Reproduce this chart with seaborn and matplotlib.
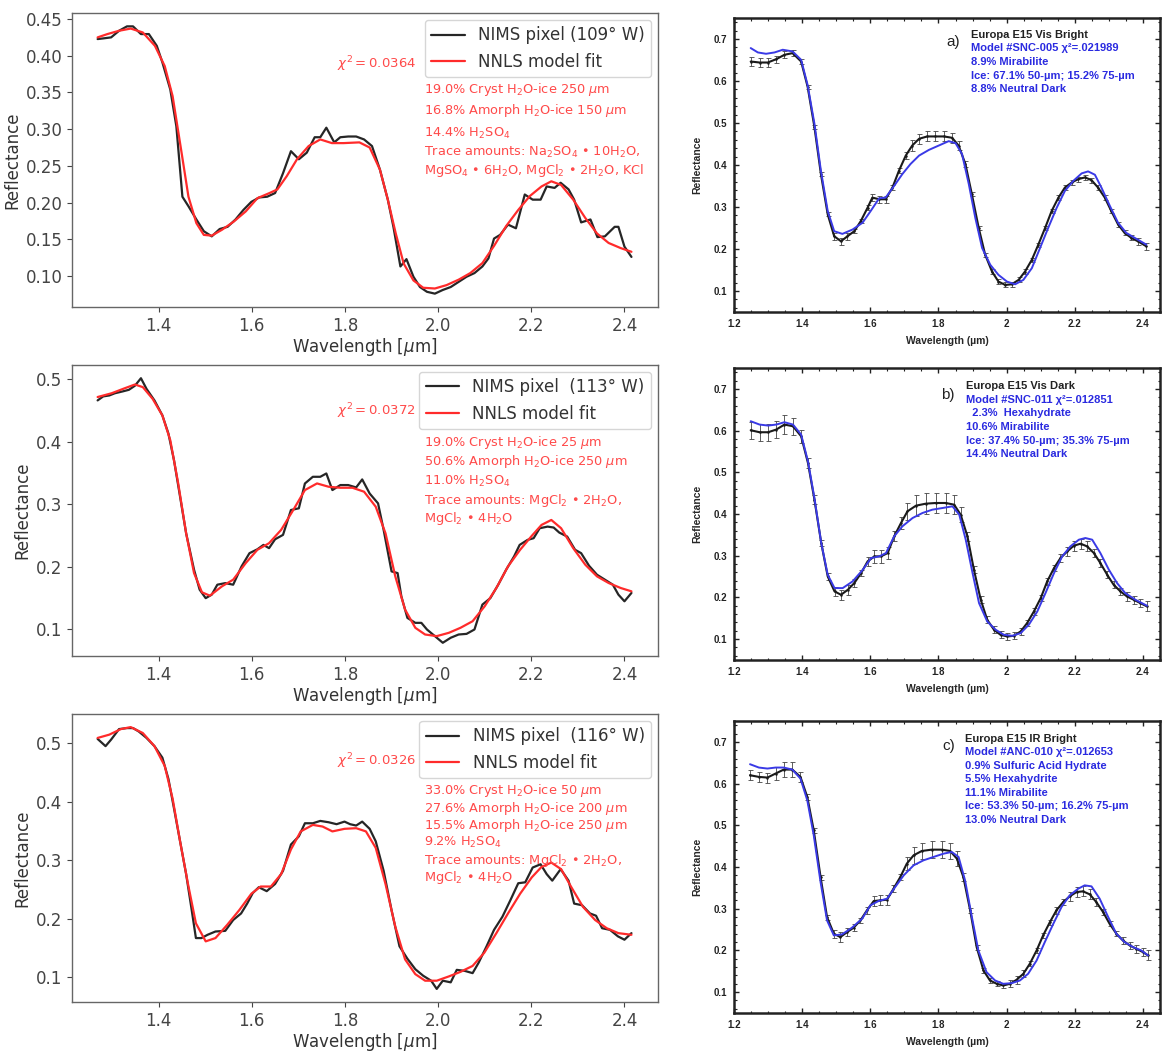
import numpy as np
import pandas as pd
import matplotlib
matplotlib.use("Agg")
import matplotlib.pyplot as plt
import seaborn as sns
from matplotlib.ticker import MultipleLocator, FormatStrFormatter, FixedLocator

sns.set_style("ticks")
plt.rcParams['font.family'] = ['DejaVu Sans']

# ---------------- Left column: NIMS pixels with NNLS fits ----------------
p1_obs_x = [1.269,1.281,1.298,1.315,1.332,1.345,1.362,1.379,1.396,1.408,1.425,1.438,1.451,1.464,1.481,1.497,
            1.514,1.531,1.548,1.565,1.582,1.599,1.616,1.633,1.65,1.667,1.684,1.701,1.718,1.735,1.747,1.76,
            1.777,1.79,1.807,1.824,1.841,1.858,1.875,1.892,1.904,1.919,1.932,1.947,1.961,1.976,1.993,2.01,
            2.027,2.044,2.061,2.078,2.095,2.108,2.12,2.133,2.15,2.167,2.186,2.203,2.22,2.233,2.25,2.263,
            2.28,2.292,2.307,2.327,2.342,2.358,2.379,2.387,2.4,2.415]
p1_obs_y = [0.4227,0.4236,0.425,0.434,0.44,0.44,0.4295,0.4295,0.4135,0.391,0.354,0.304,0.208,0.195,0.177,0.161,
            0.154,0.164,0.167,0.177,0.19,0.201,0.207,0.208,0.213,0.24,0.27,0.259,0.268,0.289,0.289,0.302,
            0.282,0.289,0.29,0.29,0.286,0.277,0.245,0.204,0.167,0.113,0.123,0.099,0.085,0.0785,0.076,0.081,
            0.085,0.092,0.099,0.104,0.113,0.124,0.151,0.156,0.17,0.165,0.211,0.204,0.204,0.222,0.22,0.227,
            0.218,0.204,0.173,0.177,0.153,0.154,0.167,0.167,0.14,0.126]
p1_fit_x = [1.269,1.29,1.315,1.34,1.366,1.392,1.413,1.43,1.447,1.464,1.481,1.497,1.514,1.536,1.561,1.587,
            1.612,1.638,1.655,1.675,1.697,1.722,1.747,1.772,1.797,1.831,1.853,1.875,1.892,1.909,1.926,1.947,
            1.968,1.993,2.018,2.044,2.069,2.095,2.12,2.146,2.172,2.197,2.222,2.243,2.264,2.29,2.316,2.341,
            2.366,2.392,2.415]
p1_fit_y = [0.425,0.4295,0.434,0.437,0.4317,0.4135,0.386,0.345,0.277,0.208,0.172,0.156,0.155,0.163,0.174,0.188,
            0.206,0.213,0.218,0.236,0.259,0.277,0.286,0.281,0.281,0.282,0.275,0.245,0.204,0.158,0.117,0.094,
            0.084,0.083,0.0876,0.095,0.104,0.1176,0.141,0.168,0.19,0.209,0.222,0.229,0.224,0.204,0.179,0.158,
            0.145,0.138,0.133]

p2_obs_x = [1.269,1.281,1.294,1.306,1.323,1.336,1.349,1.362,1.374,1.391,1.408,1.421,1.433,1.446,1.459,1.476,
            1.488,1.501,1.514,1.526,1.543,1.56,1.578,1.595,1.612,1.625,1.637,1.65,1.667,1.684,1.701,1.714,
            1.731,1.747,1.76,1.773,1.79,1.807,1.824,1.837,1.853,1.871,1.883,1.9,1.913,1.921,1.934,1.951,
            1.964,1.976,1.993,2.01,2.027,2.044,2.061,2.078,2.095,2.112,2.129,2.146,2.163,2.175,2.192,2.205,
            2.218,2.235,2.248,2.26,2.277,2.294,2.307,2.324,2.341,2.358,2.375,2.387,2.4,2.415]
p2_obs_y = [0.4656,0.472,0.4735,0.477,0.48,0.4825,0.489,0.501,0.484,0.4656,0.4417,0.4126,0.37,0.312,0.2536,0.1954,
            0.1636,0.15,0.1556,0.1715,0.174,0.1715,0.2007,0.2218,0.228,0.235,0.2298,0.244,0.251,0.2907,0.2934,0.333,
            0.3437,0.3437,0.349,0.3225,0.3305,0.3305,0.3267,0.3395,0.317,0.3013,0.259,0.1927,0.19,0.153,0.1185,0.1106,
            0.1106,0.1,0.0894,0.0788,0.0868,0.092,0.093,0.1,0.1397,0.15,0.1715,0.1954,0.2166,0.235,0.243,0.2457,
            0.2616,0.2642,0.2627,0.2547,0.2483,0.2272,0.2218,0.2017,0.1874,0.1795,0.1715,0.1556,0.145,0.1583]
p2_fit_x = [1.269,1.299,1.324,1.349,1.366,1.387,1.408,1.425,1.442,1.459,1.476,1.493,1.51,1.536,1.56,1.587,
            1.612,1.637,1.663,1.689,1.714,1.74,1.765,1.79,1.816,1.841,1.866,1.887,1.908,1.929,1.951,1.972,
            1.997,2.023,2.048,2.074,2.1,2.125,2.15,2.176,2.201,2.222,2.243,2.264,2.29,2.316,2.341,2.366,
            2.392,2.415]
p2_fit_y = [0.471,0.477,0.4841,0.491,0.4868,0.4682,0.4417,0.402,0.3331,0.2536,0.19,0.1593,0.154,0.1689,0.1795,0.206,
            0.2272,0.2377,0.259,0.2907,0.3225,0.3331,0.3278,0.3262,0.3262,0.3199,0.296,0.2536,0.1848,0.1318,0.1027,0.092,
            0.0894,0.0947,0.1027,0.1132,0.1371,0.1662,0.2007,0.2272,0.2494,0.2669,0.2748,0.2616,0.2298,0.2033,0.1848,0.1742,
            0.1662,0.1609]

p3_obs_x = [1.269,1.286,1.298,1.315,1.332,1.345,1.357,1.374,1.391,1.408,1.421,1.433,1.446,1.459,1.471,1.48,
            1.492,1.505,1.522,1.543,1.56,1.577,1.59,1.602,1.615,1.632,1.65,1.667,1.684,1.701,1.714,1.731,
            1.747,1.765,1.782,1.799,1.811,1.824,1.837,1.853,1.866,1.883,1.9,1.917,1.934,1.951,1.968,1.985,
            1.997,2.01,2.027,2.04,2.057,2.074,2.087,2.104,2.12,2.138,2.155,2.172,2.187,2.203,2.22,2.233,
            2.245,2.263,2.28,2.292,2.309,2.326,2.339,2.352,2.369,2.386,2.4,2.415]
p3_obs_y = [0.5067,0.4944,0.5056,0.5235,0.5252,0.5252,0.5196,0.5084,0.4944,0.4748,0.4385,0.3881,0.3322,0.2762,0.2147,0.1671,
            0.1671,0.1727,0.1783,0.1794,0.1979,0.2091,0.2259,0.2438,0.2538,0.2471,0.2594,0.2818,0.3266,0.3406,0.3629,0.3629,
            0.3669,0.3646,0.3613,0.3657,0.3613,0.359,0.3657,0.3534,0.3322,0.2818,0.2147,0.1531,0.1319,0.114,0.1028,0.0944,
            0.0804,0.0944,0.0916,0.1129,0.1112,0.1073,0.1252,0.1531,0.1811,0.2035,0.2315,0.2606,0.2622,0.2874,0.293,0.2762,
            0.265,0.2846,0.265,0.2259,0.2231,0.2091,0.2052,0.1839,0.1811,0.17,0.1643,0.1755]
p3_fit_x = [1.269,1.294,1.319,1.34,1.366,1.391,1.413,1.43,1.446,1.463,1.48,1.501,1.522,1.547,1.573,1.599,
            1.619,1.641,1.663,1.684,1.705,1.731,1.752,1.773,1.799,1.824,1.845,1.866,1.887,1.908,1.929,1.951,
            1.972,1.997,2.023,2.048,2.074,2.099,2.125,2.15,2.176,2.201,2.222,2.243,2.264,2.286,2.311,2.337,
            2.362,2.387,2.415]
p3_fit_y = [0.5084,0.514,0.5235,0.5269,0.5168,0.4944,0.4608,0.4049,0.3322,0.2594,0.1923,0.1615,0.1671,0.1895,0.2147,0.2427,
            0.255,0.255,0.2762,0.3182,0.349,0.3601,0.3573,0.349,0.3534,0.3545,0.349,0.321,0.2594,0.1867,0.1308,0.1056,
            0.0944,0.0944,0.1017,0.1095,0.1196,0.142,0.1755,0.2091,0.2427,0.2706,0.2885,0.2958,0.2846,0.2538,0.2203,0.1979,
            0.1839,0.1755,0.1727]

left_pixel_labels = ["NIMS pixel (109° W)", "NIMS pixel  (113° W)", "NIMS pixel  (116° W)"]
left_chi = [r"$\chi^2 = 0.0364$", r"$\chi^2 = 0.0372$", r"$\chi^2 = 0.0326$"]
left_lines = [
    [r"19.0% Cryst H$_2$O-ice 250 $\mu$m",
     r"16.8% Amorph H$_2$O-ice 150 $\mu$m",
     r"14.4% H$_2$SO$_4$",
     r"Trace amounts: Na$_2$SO$_4$ • 10H$_2$O," + "\n" + r"MgSO$_4$ • 6H$_2$O, MgCl$_2$ • 2H$_2$O, KCl"],
    [r"19.0% Cryst H$_2$O-ice 25 $\mu$m",
     r"50.6% Amorph H$_2$O-ice 250 $\mu$m",
     r"11.0% H$_2$SO$_4$",
     r"Trace amounts: MgCl$_2$ • 2H$_2$O,",
     r"MgCl$_2$ • 4H$_2$O"],
    [r"33.0% Cryst H$_2$O-ice 50 $\mu$m",
     r"27.6% Amorph H$_2$O-ice 200 $\mu$m",
     r"15.5% Amorph H$_2$O-ice 250 $\mu$m",
     r"9.2% H$_2$SO$_4$",
     r"Trace amounts: MgCl$_2$ • 2H$_2$O,",
     r"MgCl$_2$ • 4H$_2$O"],
]
left_line_y = [[0.741, 0.667, 0.592, 0.493],
               [0.732, 0.667, 0.601, 0.536, 0.474],
               [0.735, 0.673, 0.612, 0.554, 0.49, 0.432]]
left_chi_y = [0.826, 0.842, 0.837]
left_xticks = [1.4, 1.6, 1.8, 2.0, 2.2, 2.4]
left_yticks = [[0.10, 0.15, 0.20, 0.25, 0.30, 0.35, 0.40, 0.45],
               [0.1, 0.2, 0.3, 0.4, 0.5],
               [0.1, 0.2, 0.3, 0.4, 0.5]]
left_yfmt = ['%.2f', '%.1f', '%.1f']

# ---------------- Right column: Europa E15 spectra with models ----------------
a_obs_x = [1.249,1.275,1.299,1.324,1.348,1.372,1.397,1.416,1.436,1.455,
           1.475,1.494,1.514,1.533,1.553,1.572,1.592,1.606,1.626,1.645,
           1.665,1.684,1.704,1.723,1.743,1.767,1.791,1.816,1.84,1.859,
           1.879,1.898,1.918,1.937,1.957,1.976,1.996,2.015,2.035,2.054,
           2.074,2.093,2.113,2.132,2.152,2.171,2.191,2.21,2.23,2.249,
           2.268,2.288,2.307,2.327,2.346,2.366,2.385,2.41]
a_obs_y = [0.6464,0.644,0.644,0.652,0.6624,0.6664,0.6464,0.5864,0.4904,0.3784,
           0.2824,0.2304,0.2184,0.2304,0.2424,0.2664,0.2984,0.3224,0.3184,0.3184,
           0.3464,0.3864,0.4224,0.4464,0.4624,0.468,0.468,0.468,0.4648,0.4464,
           0.4024,0.3304,0.2504,0.1864,0.1464,0.1224,0.1144,0.116,0.1264,0.1464,
           0.1744,0.2104,0.2504,0.2904,0.3224,0.3464,0.3584,0.3664,0.3704,0.364,
           0.3464,0.3224,0.2904,0.2584,0.2384,0.2264,0.2184,0.2064]
a_obs_err = [0.010,0.010,0.010,0.008,0.008,0.008,0.006,0.005,0.005,0.005,
             0.005,0.008,0.008,0.008,0.005,0.005,0.006,0.008,0.008,0.008,
             0.006,0.006,0.008,0.012,0.012,0.012,0.012,0.012,0.012,0.010,
             0.006,0.005,0.005,0.005,0.005,0.005,0.006,0.006,0.006,0.005,
             0.005,0.005,0.005,0.005,0.005,0.005,0.006,0.006,0.006,0.006,
             0.006,0.005,0.005,0.005,0.006,0.006,0.008,0.008]
a_mod_x = [1.249,1.27,1.294,1.319,1.343,1.372,1.397,1.416,1.436,1.455,1.475,1.494,1.518,1.548,1.577,1.601,
           1.626,1.645,1.67,1.694,1.718,1.743,1.772,1.801,1.83,1.85,1.869,1.889,1.908,1.928,1.952,1.976,
           2.001,2.025,2.049,2.074,2.098,2.122,2.147,2.171,2.196,2.22,2.239,2.259,2.278,2.303,2.327,2.351,
           2.376,2.41]
a_mod_y = [0.6784,0.668,0.6648,0.668,0.6744,0.6704,0.6504,0.5904,0.4984,0.3864,0.2904,0.2424,0.236,0.2464,0.2624,0.2904,
           0.3208,0.3224,0.3504,0.3784,0.4024,0.4224,0.436,0.4464,0.4568,0.452,0.4264,0.3544,0.2744,0.2024,0.1624,0.1384,
           0.1224,0.116,0.1264,0.1544,0.2024,0.2504,0.2984,0.3384,0.3624,0.38,0.3848,0.3768,0.3464,0.3024,0.2624,0.2384,
           0.2264,0.2104]

b_obs_x = [1.249,1.275,1.3,1.324,1.348,1.373,1.397,1.417,1.436,1.456,
           1.475,1.495,1.514,1.534,1.553,1.573,1.592,1.612,1.631,1.651,
           1.67,1.69,1.709,1.734,1.763,1.792,1.821,1.846,1.865,1.885,
           1.904,1.924,1.943,1.963,1.982,2.002,2.021,2.041,2.06,2.08,
           2.1,2.119,2.139,2.158,2.178,2.197,2.217,2.236,2.256,2.275,
           2.295,2.314,2.334,2.353,2.373,2.392,2.412]
b_obs_y = [0.6008,0.596,0.596,0.6024,0.6144,0.6104,0.5864,0.5224,0.4344,0.3304,
           0.2504,0.2144,0.2064,0.2184,0.2344,0.2584,0.2864,0.2984,0.2984,0.3064,
           0.3464,0.3784,0.4064,0.42,0.4248,0.4264,0.4264,0.4224,0.3984,0.3464,
           0.2664,0.1944,0.1464,0.1224,0.1104,0.1064,0.108,0.1184,0.1384,0.1664,
           0.1984,0.2384,0.2704,0.2944,0.3104,0.324,0.3288,0.3224,0.3064,0.2824,
           0.2544,0.2304,0.2144,0.2024,0.1944,0.1864,0.1784]
b_obs_err = [0.020,0.020,0.020,0.020,0.022,0.020,0.015,0.012,0.010,0.008,
             0.008,0.010,0.012,0.012,0.010,0.008,0.010,0.015,0.015,0.015,
             0.012,0.015,0.020,0.025,0.025,0.025,0.025,0.022,0.018,0.010,
             0.008,0.008,0.008,0.008,0.008,0.008,0.008,0.008,0.008,0.008,
             0.008,0.008,0.008,0.010,0.010,0.012,0.012,0.012,0.010,0.010,
             0.008,0.008,0.008,0.010,0.010,0.010,0.012]
b_mod_x = [1.249,1.275,1.3,1.324,1.348,1.373,1.397,1.417,1.436,1.456,1.475,1.495,1.519,1.548,1.578,1.602,
           1.626,1.646,1.67,1.694,1.724,1.753,1.782,1.812,1.841,1.861,1.88,1.9,1.919,1.943,1.968,1.992,
           2.017,2.041,2.065,2.09,2.114,2.139,2.163,2.187,2.212,2.231,2.251,2.275,2.3,2.324,2.348,2.378,
           2.412]
b_mod_y = [0.6224,0.6144,0.612,0.6144,0.62,0.6144,0.5904,0.5264,0.4384,0.3304,0.2544,0.2224,0.2224,0.2384,0.2664,0.2944,
           0.2984,0.3064,0.3464,0.3704,0.3904,0.4024,0.4104,0.4144,0.4184,0.3984,0.3384,0.2584,0.1864,0.1424,0.1224,0.1104,
           0.108,0.1144,0.1344,0.1664,0.2104,0.2584,0.2984,0.3224,0.3384,0.3424,0.3384,0.3064,0.2664,0.2344,0.2104,0.1944,
           0.18]

c_obs_x = [1.247,1.273,1.298,1.322,1.346,1.371,1.395,1.415,1.434,1.454,
           1.473,1.493,1.512,1.532,1.551,1.571,1.59,1.61,1.629,1.649,
           1.668,1.688,1.707,1.727,1.751,1.78,1.81,1.834,1.854,1.873,
           1.893,1.912,1.932,1.951,1.971,1.99,2.01,2.029,2.049,2.068,
           2.088,2.107,2.127,2.146,2.166,2.185,2.205,2.224,2.244,2.263,
           2.283,2.302,2.322,2.341,2.361,2.38,2.4,2.415]
c_obs_y = [0.62,0.616,0.6144,0.624,0.6336,0.6336,0.616,0.568,0.488,0.376,
           0.28,0.24,0.232,0.244,0.2544,0.272,0.296,0.3184,0.32,0.3216,
           0.348,0.376,0.408,0.428,0.4384,0.4416,0.4416,0.4384,0.42,0.376,
           0.296,0.208,0.152,0.128,0.12,0.116,0.12,0.1296,0.144,0.168,
           0.2,0.236,0.268,0.296,0.316,0.3296,0.34,0.3416,0.3344,0.316,
           0.292,0.264,0.24,0.224,0.212,0.204,0.196,0.188]
c_obs_err = [0.012,0.012,0.012,0.015,0.018,0.018,0.012,0.008,0.006,0.006,
             0.006,0.010,0.012,0.010,0.008,0.006,0.008,0.012,0.012,0.012,
             0.008,0.008,0.015,0.020,0.020,0.020,0.020,0.020,0.018,0.010,
             0.006,0.006,0.006,0.006,0.006,0.006,0.008,0.010,0.008,0.006,
             0.006,0.006,0.006,0.008,0.008,0.010,0.012,0.012,0.012,0.010,
             0.008,0.006,0.006,0.008,0.008,0.010,0.010,0.012]
c_mod_x = [1.247,1.273,1.298,1.322,1.346,1.371,1.395,1.415,1.434,1.454,1.473,1.493,1.517,1.546,1.576,1.6,
           1.624,1.649,1.673,1.698,1.727,1.756,1.785,1.815,1.839,1.859,1.878,1.898,1.917,1.941,1.966,1.99,
           2.015,2.039,2.063,2.088,2.112,2.137,2.161,2.185,2.21,2.229,2.249,2.273,2.298,2.322,2.346,2.371,
           2.395,2.415]
c_mod_y = [0.6464,0.6384,0.636,0.6384,0.6384,0.6336,0.612,0.56,0.476,0.364,0.272,0.236,0.2384,0.2544,0.276,0.308,
           0.3184,0.324,0.352,0.38,0.404,0.416,0.424,0.432,0.436,0.424,0.368,0.28,0.2,0.148,0.128,0.12,
           0.1216,0.128,0.144,0.176,0.22,0.264,0.304,0.332,0.348,0.356,0.3536,0.324,0.28,0.24,0.22,0.208,
           0.2,0.188]

right_tags = ["a)", "b)", "c)"]
right_titles = ["Europa E15 Vis Bright", "Europa E15 Vis Dark", "Europa E15 IR Bright"]
right_lines = [
    ["Model #SNC-005 χ²=.021989", "8.9% Mirabilite", "Ice: 67.1% 50-µm; 15.2% 75-µm", "8.8% Neutral Dark"],
    ["Model #SNC-011 χ²=.012851", "  2.3%  Hexahydrate", "10.6% Mirabilite",
     "Ice: 37.4% 50-µm; 35.3% 75-µm", "14.4% Neutral Dark"],
    ["Model #ANC-010 χ²=.012653", "0.9% Sulfuric Acid Hydrate", "5.5% Hexahydrite", "11.1% Mirabilite",
     "Ice: 53.3% 50-µm; 16.2% 75-µm", "13.0% Neutral Dark"],
]
right_tag_xy = [(1.862, 0.693), (1.848, 0.686), (1.85, 0.690)]
right_title_xy = [(1.896, 0.710), (1.882, 0.706), (1.878, 0.708)]
right_line_dy = 0.0325
right_xticks = [1.2, 1.4, 1.6, 1.8, 2.0, 2.2, 2.4]
right_xticklabels = ["1.2", "1.4", "1.6", "1.8", "2", "2.2", "2.4"]
right_yticks = [0.1, 0.2, 0.3, 0.4, 0.5, 0.6, 0.7]

for arr in [(a_obs_x, a_obs_y, a_obs_err), (b_obs_x, b_obs_y, b_obs_err), (c_obs_x, c_obs_y, c_obs_err)]:
    assert len(arr[0]) == len(arr[1]) == len(arr[2])
assert len(a_mod_x) == len(a_mod_y) and len(b_mod_x) == len(b_mod_y) and len(c_mod_x) == len(c_mod_y)
for xx, yy in [(p1_obs_x, p1_obs_y), (p1_fit_x, p1_fit_y), (p2_obs_x, p2_obs_y), (p2_fit_x, p2_fit_y),
               (p3_obs_x, p3_obs_y), (p3_fit_x, p3_fit_y)]:
    assert len(xx) == len(yy)

# ---------------- Figure ----------------
W, H = 1162, 1055
fig = plt.figure(figsize=(W / 100, H / 100), dpi=100)


def rect(x0, x1, y0, y1):
    return [x0 / W, 1 - y1 / H, (x1 - x0) / W, (y1 - y0) / H]


left_rects = [rect(72, 658, 13, 307), rect(72, 658, 365, 656), rect(72, 658, 714, 1002)]
right_rects = [rect(734, 1160, 18, 312), rect(734, 1160, 368, 660), rect(734, 1160, 721, 1013)]

left_data = [(p1_obs_x, p1_obs_y, p1_fit_x, p1_fit_y),
             (p2_obs_x, p2_obs_y, p2_fit_x, p2_fit_y),
             (p3_obs_x, p3_obs_y, p3_fit_x, p3_fit_y)]

RED = '#ff2b2b'
TXT_RED = '#ff4a4a'
for i in range(3):
    ax = fig.add_axes(left_rects[i])
    ox, oy, fx, fy = left_data[i]
    sns.lineplot(x=ox, y=oy, ax=ax, color='#262626', lw=1.6, sort=False, estimator=None,
                 label=left_pixel_labels[i])
    sns.lineplot(x=fx, y=fy, ax=ax, color=RED, lw=1.6, sort=False, estimator=None,
                 label='NNLS model fit')
    ax.set_xlim(1.214, 2.472)
    ymin = min(min(oy), min(fy)); ymax = max(max(oy), max(fy))
    pad = (ymax - ymin) * 0.05
    ax.set_ylim(ymin - pad, ymax + pad)
    ax.xaxis.set_major_locator(FixedLocator(left_xticks))
    ax.xaxis.set_major_formatter(FormatStrFormatter('%.1f'))
    ax.yaxis.set_major_locator(FixedLocator(left_yticks[i]))
    ax.yaxis.set_major_formatter(FormatStrFormatter(left_yfmt[i]))
    ax.tick_params(labelsize=12, colors='#444444', length=3.5, width=0.8)
    for s in ax.spines.values():
        s.set_color('#666666'); s.set_linewidth(1.0)
    ax.set_xlabel(r"Wavelength [$\mu$m]", fontsize=12, color='#333333', labelpad=1)
    ax.set_ylabel("Reflectance", fontsize=12, color='#333333', labelpad=3)
    leg = ax.legend(loc='upper right', fontsize=12, frameon=True, handlelength=2.0,
                    borderaxespad=0.4)
    for t in leg.get_texts():
        t.set_color('#333333')
    ax.text(0.587, left_chi_y[i], left_chi[i], transform=ax.transAxes, color=TXT_RED,
            fontsize=9.5, ha='right', va='center')
    for txt, yy in zip(left_lines[i], left_line_y[i]):
        ax.text(0.600, yy, txt, transform=ax.transAxes, color=TXT_RED, fontsize=9.3,
                ha='left', va='center', linespacing=1.15)

right_data = [(a_obs_x, a_obs_y, a_obs_err, a_mod_x, a_mod_y),
              (b_obs_x, b_obs_y, b_obs_err, b_mod_x, b_mod_y),
              (c_obs_x, c_obs_y, c_obs_err, c_mod_x, c_mod_y)]
RFONT = ['Liberation Sans', 'DejaVu Sans']
BLUE = '#3a3ae6'
for i in range(3):
    ax = fig.add_axes(right_rects[i])
    ox, oy, oe, mx, my = right_data[i]
    ax.errorbar(ox, oy, yerr=oe, fmt='none', ecolor='#444444', elinewidth=0.6,
                capsize=1.8, capthick=0.6, zorder=2)
    sns.lineplot(x=ox, y=oy, ax=ax, color='#1a1a1a', lw=1.5, sort=False, estimator=None,
                 marker='o', markersize=1.8, markeredgewidth=0, zorder=3)
    sns.lineplot(x=mx, y=my, ax=ax, color=BLUE, lw=1.4, sort=False, estimator=None, zorder=4)
    ax.set_xlim(1.2, 2.45)
    ax.set_ylim(0.05, 0.75)
    ax.xaxis.set_major_locator(FixedLocator(right_xticks))
    ax.set_xticklabels(right_xticklabels)
    ax.xaxis.set_minor_locator(MultipleLocator(0.05))
    ax.yaxis.set_major_locator(FixedLocator(right_yticks))
    ax.yaxis.set_major_formatter(FormatStrFormatter('%.1f'))
    ax.yaxis.set_minor_locator(MultipleLocator(0.02))
    ax.tick_params(which='both', direction='in', top=True, right=True, colors='#222222')
    ax.tick_params(which='major', length=3.5, width=1.0, labelsize=7, pad=5)
    ax.tick_params(which='minor', length=1.8, width=0.8)
    for lab in ax.get_xticklabels() + ax.get_yticklabels():
        lab.set_fontweight('bold'); lab.set_family(RFONT)
    for s in ax.spines.values():
        s.set_color('#222222'); s.set_linewidth(1.8)
    ax.set_xlabel("Wavelength (µm)", fontsize=7.5, fontweight='bold', family=RFONT, labelpad=5)
    ax.set_ylabel("Reflectance", fontsize=7.5, fontweight='bold', family=RFONT, labelpad=8)
    tx, ty = right_tag_xy[i]
    ax.text(tx, ty, right_tags[i], fontsize=11, ha='right', va='center', family=RFONT, color='#222222')
    hx, hy = right_title_xy[i]
    ax.text(hx, hy, right_titles[i], fontsize=8, fontweight='bold', ha='left', va='center',
            family=RFONT, color='#222222')
    for k, line in enumerate(right_lines[i]):
        ax.text(hx, hy - right_line_dy * (k + 1), line, fontsize=8, fontweight='bold', ha='left',
                va='center', family=RFONT, color='#2a2ae0')

fig.savefig("out.png", dpi=100)
